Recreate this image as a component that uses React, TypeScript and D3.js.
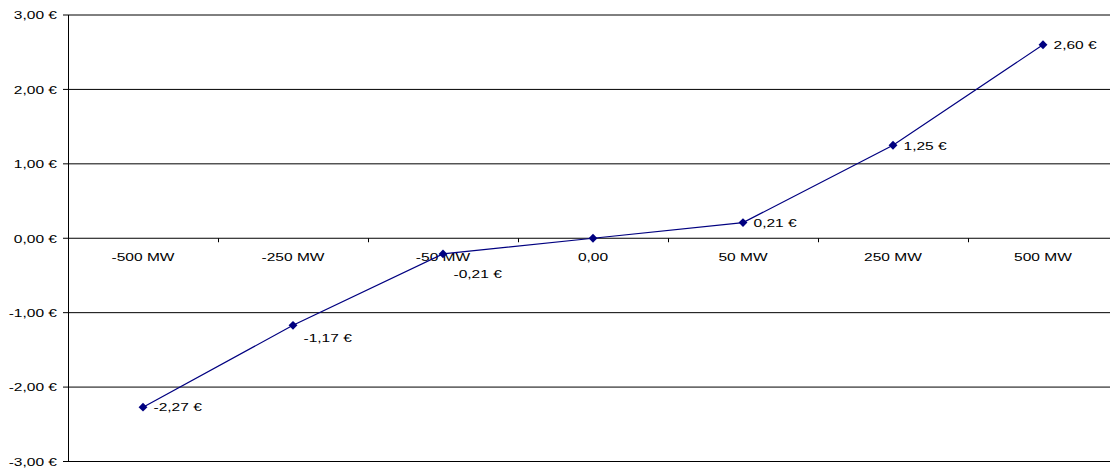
import React from "react";
import * as d3 from "d3";

// Price response per traded volume
const categories: string[] = ["-500 MW", "-250 MW", "-50 MW", "0,00", "50 MW", "250 MW", "500 MW"];
const values: number[] = [-2.27, -1.17, -0.21, 0, 0.21, 1.25, 2.6];
const yTicks: number[] = [3, 2, 1, 0, -1, -2, -3];

// Value labels are nudged down where they would collide with the axis text
const labelNudge: number[] = [0, 12, 20, 0, 0, 0, 0];

const W = 1110;
const H = 470;
const left = 68;
const band = 150;
const top = 15;
const bottom = 461.5;
const stretch = 1.35;
const font = "'Liberation Sans', Arial, Helvetica, sans-serif";
const fontSize = 11.5;

const fmt = (v: number) => v.toFixed(2).replace(".", ",");

function WideText(props: { x: number; y: number; anchor: "start" | "middle" | "end"; children: string }) {
  return (
    <g transform={`translate(${props.x},${props.y}) scale(${stretch},1)`}>
      <text x={0} y={0} textAnchor={props.anchor} fontFamily={font} fontSize={fontSize} fill="#000">
        {props.children}
      </text>
    </g>
  );
}

export default function App() {
  const x = d3
    .scaleBand<string>()
    .domain(categories)
    .range([left, left + band * categories.length])
    .padding(0);
  const y = d3.scaleLinear().domain([-3, 3]).range([bottom, top]);

  const cx = (i: number) => (x(categories[i]) as number) + x.bandwidth() / 2;

  const line = d3
    .line<number>()
    .x((_, i) => cx(i))
    .y((d) => y(d));

  const diamond = d3.symbol().type(d3.symbolDiamond2).size(50)();

  const x0 = left;
  const x1 = left + band * categories.length;

  return (
    <svg
      width={W}
      height={H}
      style={{ position: "absolute", left: 0, top: 0, display: "block", background: "#fff" }}
    >
      {/* horizontal gridlines and y ticks */}
      {yTicks.map((t) => (
        <g key={t}>
          <line x1={x0} x2={x1} y1={y(t)} y2={y(t)} stroke="#000" strokeWidth={1} />
          <line x1={x0 - 5} x2={x0} y1={y(t)} y2={y(t)} stroke="#000" strokeWidth={1} />
          <WideText x={57} y={y(t) + 4.3} anchor="end">
            {`${fmt(t)} €`}
          </WideText>
        </g>
      ))}

      {/* value axis */}
      <line x1={x0 + 0.5} x2={x0 + 0.5} y1={y(3)} y2={y(-3)} stroke="#000" strokeWidth={1} />

      {/* category ticks on the zero line */}
      {categories.map((c, i) => (
        <line
          key={c}
          x1={(x(c) as number) + band + 0.5}
          x2={(x(c) as number) + band + 0.5}
          y1={y(0)}
          y2={y(0) + 4}
          stroke="#000"
          strokeWidth={1}
        />
      ))}

      {/* category labels */}
      {categories.map((c, i) => (
        <WideText key={c} x={cx(i)} y={y(0) + 22.5} anchor="middle">
          {c}
        </WideText>
      ))}

      {/* series */}
      <path d={line(values) || ""} fill="none" stroke="#000080" strokeWidth={1.2} />
      {values.map((v, i) => (
        <path key={i} d={diamond || ""} transform={`translate(${cx(i)},${y(v)})`} fill="#000080" />
      ))}

      {/* value labels */}
      {values.map((v, i) =>
        v === 0 ? null : (
          <WideText key={i} x={cx(i) + 10.5} y={y(v) + 4.3 + labelNudge[i]} anchor="start">
            {`${fmt(v)} €`}
          </WideText>
        )
      )}
    </svg>
  );
}
